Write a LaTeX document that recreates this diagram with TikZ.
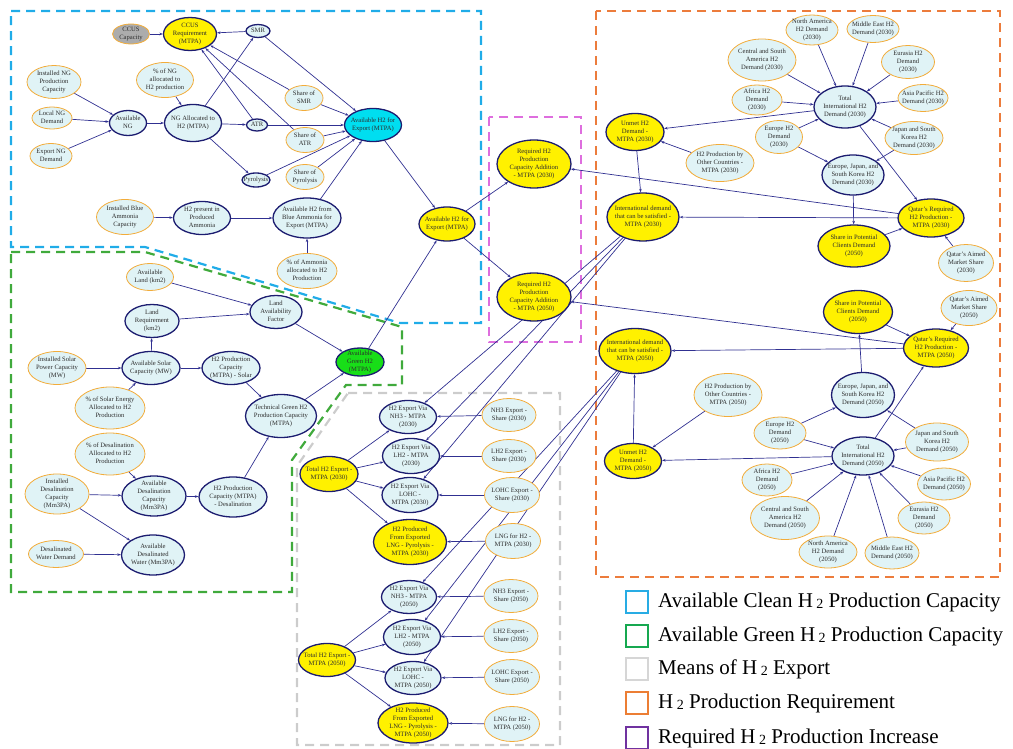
\documentclass[tikz,border=0pt]{standalone}
\usepackage{fontspec}
\setmainfont{Liberation Serif}
\usetikzlibrary{shapes.geometric,arrows.meta}
\definecolor{inbg}{RGB}{224,243,246}
\definecolor{inline}{RGB}{242,172,58}
\definecolor{auxline}{RGB}{28,28,112}
\definecolor{edgec}{RGB}{48,48,145}
\definecolor{keyfill}{RGB}{255,241,0}
\definecolor{cleanfill}{RGB}{0,222,240}
\definecolor{greenfill}{RGB}{24,222,24}
\definecolor{ccusfill}{RGB}{172,172,172}
\definecolor{txtc}{RGB}{45,45,45}
\definecolor{cleanbox}{RGB}{32,172,232}
\definecolor{greenbox}{RGB}{64,170,60}
\definecolor{exportbox}{RGB}{204,204,204}
\definecolor{incbox}{RGB}{222,110,222}
\definecolor{reqbox}{RGB}{236,124,60}
\definecolor{legclean}{RGB}{40,172,228}
\definecolor{leggreen}{RGB}{22,168,80}
\definecolor{legexport}{RGB}{214,214,214}
\definecolor{legreq}{RGB}{236,126,52}
\definecolor{leginc}{RGB}{112,50,160}
\newcommand\tx[1]{\makebox[0pt]{\raisebox{-1.3pt}[0pt][0pt]{\begin{tabular}{@{}c@{}}#1\end{tabular}}}}
\newcommand\htwo{H\,{\fontsize{14}{14}\selectfont\raisebox{-1.5pt}{2}}}
\pgfdeclarelayer{background}
\pgfsetlayers{background,main}
\tikzset{
  var/.style={ellipse, fill=inbg, text=txtc, font=\fontsize{6.6}{8}\selectfont},
  inp/.style={var, draw=inline, line width=.8pt},
  aux/.style={var, draw=auxline, line width=1.3pt},
  key/.style={aux, fill=keyfill},
  sz/.style 2 args={minimum width=#1pt, minimum height=#2pt, inner sep=0pt},
  lnk/.style={draw=edgec, line width=.7pt, -{Stealth[length=3.5pt, width=2.6pt]}},
  zone/.style={line width=2.2pt, dash pattern=on 9pt off 6pt},
  legbox/.style={draw=#1, line width=2pt, minimum size=22pt, inner sep=0pt},
  legtxt/.style={font=\fontsize{21}{24}\selectfont, anchor=west, inner sep=0pt}
}
\begin{document}
\begin{tikzpicture}[x=1pt, y=-1pt]
  \useasboundingbox (0,0) rectangle (1013,749);

  % clean H2 (natural gas and blue ammonia)
  \node[inp, fill=ccusfill, sz={37}{20}] (ccuscap) at (131,34) {\tx{CCUS\\Capacity}};
  \node[key, sz={53}{33}] (ccusreq) at (190,34) {\tx{CCUS\\Requirement\\(MTPA)}};
  \node[aux, sz={24}{13}] (smr) at (258,31) {\tx{SMR}};
  \node[inp, sz={54}{33}] (ngcap) at (54,82) {\tx{Installed NG\\Production\\Capacity}};
  \node[inp, sz={57}{35}] (ngshare) at (165,80) {\tx{\% of NG\\allocated to\\H2 production}};
  \node[inp, sz={38}{25}] (smrshare) at (304,98) {\tx{Share of\\SMR}};
  \node[inp, sz={40}{22}] (ngloc) at (52,118) {\tx{Local NG\\Demand}};
  \node[aux, sz={37}{25}] (ngav) at (128,123) {\tx{Available\\NG}};
  \node[aux, sz={57}{37}] (ngalloc) at (193,123) {\tx{NG Allocated to\\H2 (MTPA)}};
  \node[aux, sz={21}{12}] (atr) at (257,125) {\tx{ATR}};
  \node[inp, sz={38}{25}] (atrshare) at (305,140) {\tx{Share of\\ATR}};
  \node[inp, sz={42}{25}] (ngexp) at (51,156) {\tx{Export NG\\Demand}};
  \node[aux, sz={28}{14}] (pyro) at (256,180) {\tx{Pyrolysis}};
  \node[inp, sz={38}{25}] (pyroshare) at (305,177) {\tx{Share of\\Pyrolysis}};
  \node[aux, fill=cleanfill, sz={57}{33}] (h2clean) at (373,125) {\tx{Available H2 for\\Export (MTPA)}};
  \node[inp, sz={57}{35}] (ammcap) at (125,217) {\tx{Installed Blue\\Ammonia\\Capacity}};
  \node[aux, sz={57}{33}] (ammh2) at (202,218) {\tx{H2 present in\\Produced\\Ammonia}};
  \node[aux, sz={68}{40}] (ammav) at (307,218) {\tx{Available H2 from\\Blue Ammonia for\\Export (MTPA)}};
  \node[inp, sz={60}{35}] (ammshare) at (307,271) {\tx{\% of Ammonia\\allocated to H2\\Production}};

  % green H2 (solar and desalination)
  \node[inp, sz={47}{27}] (land) at (150,277) {\tx{Available\\Land (km2)}};
  \node[aux, sz={52}{33}] (landfac) at (276,312) {\tx{Land\\Availability\\Factor}};
  \node[aux, sz={54}{33}] (landreq) at (152,321) {\tx{Land\\Requirement\\(km2)}};
  \node[inp, sz={58}{33}] (solarcap) at (57,368) {\tx{Installed Solar\\Power Capacity\\(MW)}};
  \node[aux, sz={58}{33}] (solarav) at (151,368) {\tx{Available Solar\\Capacity (MW)}};
  \node[aux, sz={58}{33}] (h2solar) at (231,368) {\tx{H2 Production\\Capacity\\(MTPA) - Solar}};
  \node[aux, fill=greenfill, sz={48}{28}] (h2green) at (360,362) {\tx{Available\\Green H2\\(MTPA)}};
  \node[inp, sz={70}{42}] (solarshare) at (110,408) {\tx{\% of Solar Energy\\Allocated to H2\\Production}};
  \node[aux, sz={71}{43}] (techgreen) at (281,416) {\tx{Technical Green H2\\Production Capacity\\(MTPA)}};
  \node[inp, sz={70}{42}] (desalshare) at (110,454) {\tx{\% of Desalination\\Allocated to H2\\Production}};
  \node[inp, sz={64}{40}] (desalcap) at (57,494) {\tx{Installed\\Desalination\\Capacity\\(Mm3PA)}};
  \node[aux, sz={64}{40}] (desalav) at (154,496) {\tx{Available\\Desalination\\Capacity\\(Mm3PA)}};
  \node[aux, sz={68}{40}] (h2desal) at (233,497) {\tx{H2 Production\\Capacity (MTPA)\\- Desalination}};
  \node[inp, sz={55}{27}] (waterdem) at (56,554) {\tx{Desalinated\\Water Demand}};
  \node[aux, sz={63}{40}] (waterav) at (153,555) {\tx{Available\\Desalinated\\Water (Mm3PA)}};

  % required increase
  \node[key, sz={56}{34}] (h2exp) at (447,224) {\tx{Available H2 for\\Export (MTPA)}};
  \node[key, sz={74}{48}] (reqa) at (534,164) {\tx{Required H2\\Production\\Capacity Addition\\- MTPA (2030)}};
  \node[key, sz={74}{48}] (reqb) at (534,297) {\tx{Required H2\\Production\\Capacity Addition\\- MTPA (2050)}};

  % requirement 2030
  \node[key, sz={58}{37}] (unmeta) at (635,132) {\tx{Unmet H2\\Demand -\\MTPA (2030)}};
  \node[key, sz={72}{48}] (intla) at (643,217) {\tx{International demand\\that can be satisfied -\\MTPA (2030)}};
  \node[inp, sz={52}{30}] (naa) at (812,30) {\tx{North America\\H2 Demand\\(2030)}};
  \node[inp, sz={52}{27}] (mea) at (873,29) {\tx{Middle East H2\\Demand (2030)}};
  \node[inp, sz={68}{42}] (csaa) at (762,60) {\tx{Central and South\\America H2\\Demand (2030)}};
  \node[inp, sz={53}{33}] (eura) at (908,62) {\tx{Eurasia H2\\Demand\\(2030)}};
  \node[inp, sz={50}{30}] (afra) at (757,100) {\tx{Africa H2\\Demand\\(2030)}};
  \node[aux, sz={62}{42}] (tota) at (845,107) {\tx{Total\\International H2\\Demand (2030)}};
  \node[inp, sz={50}{27}] (apa) at (923,98) {\tx{Asia Pacific H2\\Demand (2030)}};
  \node[inp, sz={47}{33}] (eua) at (779,137) {\tx{Europe H2\\Demand\\(2030)}};
  \node[inp, sz={58}{33}] (jska) at (914,138) {\tx{Japan and South\\Korea H2\\Demand (2030)}};
  \node[inp, sz={68}{37}] (otha) at (720,163) {\tx{H2 Production by\\Other Countries -\\MTPA (2030)}};
  \node[aux, sz={62}{40}] (ejsa) at (853,175) {\tx{Europe, Japan, and\\South Korea H2\\Demand (2030)}};
  \node[key, sz={66}{38}] (qata) at (931,218) {\tx{Qatar's Required\\H2 Production -\\MTPA (2030)}};
  \node[key, sz={72}{42}] (sharea) at (854,246) {\tx{Share in Potential\\Clients Demand\\(2050)}};
  \node[inp, sz={55}{37}] (aima) at (966,263) {\tx{Qatar's Aimed\\Market Share\\(2030)}};

  % requirement 2050
  \node[key, sz={72}{45}] (intlb) at (635,351) {\tx{International demand\\that can be satisfied -\\MTPA (2050)}};
  \node[key, sz={69}{43}] (shareb) at (858,312) {\tx{Share in Potential\\Clients Demand\\(2050)}};
  \node[inp, sz={56}{35}] (aimb) at (969,308) {\tx{Qatar's Aimed\\Market Share\\(2050)}};
  \node[key, sz={65}{38}] (qatb) at (936,348) {\tx{Qatar's Required\\H2 Production -\\MTPA (2050)}};
  \node[inp, sz={68}{43}] (othb) at (728,395) {\tx{H2 Production by\\Other Countries -\\MTPA (2050)}};
  \node[aux, sz={63}{45}] (ejsb) at (863,395) {\tx{Europe, Japan, and\\South Korea H2\\Demand (2050)}};
  \node[inp, sz={52}{32}] (eub) at (780,433) {\tx{Europe H2\\Demand\\(2050)}};
  \node[aux, sz={62}{38}] (totb) at (863,456) {\tx{Total\\International H2\\Demand (2050)}};
  \node[inp, sz={63}{38}] (jskb) at (937,442) {\tx{Japan and South\\Korea H2\\Demand (2050)}};
  \node[key, sz={57}{35}] (unmetb) at (633,461) {\tx{Unmet H2\\Demand -\\MTPA (2050)}};
  \node[inp, sz={50}{32}] (afrb) at (767,480) {\tx{Africa H2\\Demand\\(2050)}};
  \node[inp, sz={53}{32}] (apb) at (944,484) {\tx{Asia Pacific H2\\Demand (2050)}};
  \node[inp, sz={69}{43}] (csab) at (785,518) {\tx{Central and South\\America H2\\Demand (2050)}};
  \node[inp, sz={52}{32}] (eurb) at (924,518) {\tx{Eurasia H2\\Demand\\(2050)}};
  \node[inp, sz={58}{32}] (nab) at (828,552) {\tx{North America\\H2 Demand\\(2050)}};
  \node[inp, sz={54}{32}] (meb) at (892,553) {\tx{Middle East H2\\Demand (2050)}};

  % export 2030
  \node[aux, sz={57}{33}] (nh3a) at (408,417) {\tx{H2 Export Via\\NH3 - MTPA\\(2030)}};
  \node[inp, sz={54}{33}] (nh3sa) at (509,415) {\tx{NH3 Export -\\Share (2030)}};
  \node[aux, sz={57}{35}] (lh2a) at (411,456) {\tx{H2 Export Via\\LH2 - MTPA\\(2030)}};
  \node[inp, sz={54}{33}] (lh2sa) at (509,456) {\tx{LH2 Export -\\Share (2030)}};
  \node[key, sz={58}{35}] (tea) at (329,474) {\tx{Total H2 Export -\\MTPA (2030)}};
  \node[aux, sz={56}{35}] (lohca) at (410,495) {\tx{H2 Export Via\\LOHC -\\MTPA (2030)}};
  \node[inp, sz={55}{35}] (lohcsa) at (512,495) {\tx{LOHC Export -\\Share (2030)}};
  \node[key, sz={73}{45}] (lnga) at (410,542) {\tx{H2 Produced\\From Exported\\LNG - Pyrolysis -\\MTPA (2030)}};
  \node[inp, sz={55}{35}] (lngsa) at (513,541) {\tx{LNG for H2 -\\MTPA (2030)}};

  % export 2050
  \node[aux, sz={55}{33}] (nh3b) at (409,597) {\tx{H2 Export Via\\NH3 - MTPA\\(2050)}};
  \node[inp, sz={54}{33}] (nh3sb) at (511,596) {\tx{NH3 Export -\\Share (2050)}};
  \node[aux, sz={57}{35}] (lh2b) at (412,637) {\tx{H2 Export Via\\LH2 - MTPA\\(2050)}};
  \node[inp, sz={54}{33}] (lh2sb) at (511,636) {\tx{LH2 Export -\\Share (2050)}};
  \node[key, sz={57}{33}] (teb) at (327,660) {\tx{Total H2 Export -\\MTPA (2050)}};
  \node[aux, sz={56}{33}] (lohcb) at (413,678) {\tx{H2 Export Via\\LOHC -\\MTPA (2050)}};
  \node[inp, sz={55}{35}] (lohcsb) at (512,677) {\tx{LOHC Export -\\Share (2050)}};
  \node[key, sz={70}{40}] (lngb) at (413,723) {\tx{H2 Produced\\From Exported\\LNG - Pyrolysis -\\MTPA (2050)}};
  \node[inp, sz={55}{35}] (lngsb) at (512,724) {\tx{LNG for H2 -\\MTPA (2050)}};

  % legend
  \node[legbox=legclean] (kclean) at (637,602) {};
  \node[legtxt] at (658,602) {Available Clean \htwo{} Production Capacity};
  \node[legbox=leggreen] (kgreen) at (637,636) {};
  \node[legtxt] at (658,636) {Available Green \htwo{} Production Capacity};
  \node[legbox=legexport] (kexport) at (637,669) {};
  \node[legtxt] at (658,669) {Means of \htwo{} Export};
  \node[legbox=legreq] (kreq) at (637,703) {};
  \node[legtxt] at (658,703) {\htwo{} Production Requirement};
  \node[legbox=leginc] (kinc) at (637,738) {};
  \node[legtxt] at (658,738) {Required \htwo{} Production Increase};

  \begin{pgfonlayer}{background}
    % zones
    \draw[zone, cleanbox] (11,11) -- (481,11) -- (481,323) -- (400,323) --
    (145,247) -- (11,247) -- cycle;
    \draw[zone, greenbox] (11,252) -- (145,252) -- (402,327) -- (402,385) --
    (346,385) -- (292,460) -- (292,592) -- (11,592) -- cycle;
    \draw[zone, exportbox] (348,393) -- (560,393) -- (560,745) -- (297,745) --
    (297,466) -- cycle;
    \draw[zone, incbox] (489,117) rectangle (581,342);
    \draw[zone, reqbox] (596,11) rectangle (1000,577);

    % clean H2 links
    \draw[lnk] (ccuscap) -- (ccusreq);
    \draw[lnk] (smr) -- (ccusreq);
    \draw[lnk] (atr) -- (ccusreq);
    \draw[lnk] (smrshare) -- (ccusreq);
    \draw[lnk] (atrshare) -- (ccusreq);
    \draw[lnk] (ngcap) -- (ngav);
    \draw[lnk] (ngloc) -- (ngav);
    \draw[lnk] (ngexp) -- (ngav);
    \draw[lnk] (ngav) -- (ngalloc);
    \draw[lnk] (ngshare) -- (ngalloc);
    \draw[lnk] (ngalloc) -- (smr);
    \draw[lnk] (ngalloc) -- (atr);
    \draw[lnk] (ngalloc) -- (pyro);
    \draw[lnk] (smr) -- (h2clean);
    \draw[lnk] (smrshare) -- (h2clean);
    \draw[lnk] (atr) -- (h2clean);
    \draw[lnk] (atrshare) -- (h2clean);
    \draw[lnk] (pyro) -- (h2clean);
    \draw[lnk] (pyroshare) -- (h2clean);
    \draw[lnk] (ammav) -- (h2clean);
    \draw[lnk] (ammcap) -- (ammh2);
    \draw[lnk] (ammh2) -- (ammav);
    \draw[lnk] (ammshare) -- (ammav);
    \draw[lnk] (h2clean) -- (h2exp);

    % green H2 links
    \draw[lnk] (land) -- (landfac);
    \draw[lnk] (landreq) -- (landfac);
    \draw[lnk] (landfac) -- (h2green);
    \draw[lnk] (solarav) -- (landreq);
    \draw[lnk] (solarcap) -- (solarav);
    \draw[lnk] (solarshare) -- (solarav);
    \draw[lnk] (solarav) -- (h2solar);
    \draw[lnk] (h2solar) -- (techgreen);
    \draw[lnk] (h2desal) -- (techgreen);
    \draw[lnk] (techgreen) -- (h2green);
    \draw[lnk] (desalshare) -- (desalav);
    \draw[lnk] (desalcap) -- (desalav);
    \draw[lnk] (desalcap) -- (waterav);
    \draw[lnk] (waterdem) -- (waterav);
    \draw[lnk] (desalav) -- (h2desal);
    \draw[lnk] (h2green) -- (h2exp);

    % required increase links
    \draw[lnk] (h2exp) -- (reqa);
    \draw[lnk] (h2exp) -- (reqb);
    \draw[lnk] (qata) -- (reqa);
    \draw[lnk] (qatb) -- (reqb);

    % requirement 2030 links
    \draw[lnk] (unmeta) -- (intla);
    \draw[lnk] (otha) -- (unmeta);
    \draw[lnk] (tota) -- (unmeta);
    \draw[lnk] (naa) -- (tota);
    \draw[lnk] (mea) -- (tota);
    \draw[lnk] (csaa) -- (tota);
    \draw[lnk] (eura) -- (tota);
    \draw[lnk] (afra) -- (tota);
    \draw[lnk] (apa) -- (tota);
    \draw[lnk] (eua) -- (tota);
    \draw[lnk] (jska) -- (tota);
    \draw[lnk] (eua) -- (ejsa);
    \draw[lnk] (jska) -- (ejsa);
    \draw[lnk] (ejsa) -- (sharea);
    \draw[lnk] (tota) -- (qata);
    \draw[lnk] (sharea) -- (qata);
    \draw[lnk] (aima) -- (qata);
    \draw[lnk] (qata) -- (intla);

    % requirement 2050 links
    \draw[lnk] (unmetb) -- (intlb);
    \draw[lnk] (othb) -- (unmetb);
    \draw[lnk] (totb) -- (unmetb);
    \draw[lnk] (nab) -- (totb);
    \draw[lnk] (meb) -- (totb);
    \draw[lnk] (csab) -- (totb);
    \draw[lnk] (eurb) -- (totb);
    \draw[lnk] (afrb) -- (totb);
    \draw[lnk] (apb) -- (totb);
    \draw[lnk] (eub) -- (totb);
    \draw[lnk] (jskb) -- (totb);
    \draw[lnk] (eub) -- (ejsb);
    \draw[lnk] (jskb) -- (ejsb);
    \draw[lnk] (ejsb) -- (shareb);
    \draw[lnk] (totb) -- (qatb);
    \draw[lnk] (shareb) -- (qatb);
    \draw[lnk] (aimb) -- (qatb);
    \draw[lnk] (qatb) -- (intlb);

    % export links
    \draw[lnk] (tea) -- (nh3a);
    \draw[lnk] (tea) -- (lh2a);
    \draw[lnk] (tea) -- (lohca);
    \draw[lnk] (tea) -- (lnga);
    \draw[lnk] (nh3sa) -- (nh3a);
    \draw[lnk] (lh2sa) -- (lh2a);
    \draw[lnk] (lohcsa) -- (lohca);
    \draw[lnk] (lngsa) -- (lnga);
    \draw[lnk] (intla) -- (nh3a);
    \draw[lnk] (intla) -- (lh2a);
    \draw[lnk] (intla) -- (lohca);
    \draw[lnk] (teb) -- (nh3b);
    \draw[lnk] (teb) -- (lh2b);
    \draw[lnk] (teb) -- (lohcb);
    \draw[lnk] (teb) -- (lngb);
    \draw[lnk] (nh3sb) -- (nh3b);
    \draw[lnk] (lh2sb) -- (lh2b);
    \draw[lnk] (lohcsb) -- (lohcb);
    \draw[lnk] (lngsb) -- (lngb);
    \draw[lnk] (intlb) -- (nh3b);
    \draw[lnk] (intlb) -- (lh2b);
    \draw[lnk] (intlb) -- (lohcb);
  \end{pgfonlayer}
\end{tikzpicture}
\end{document}
